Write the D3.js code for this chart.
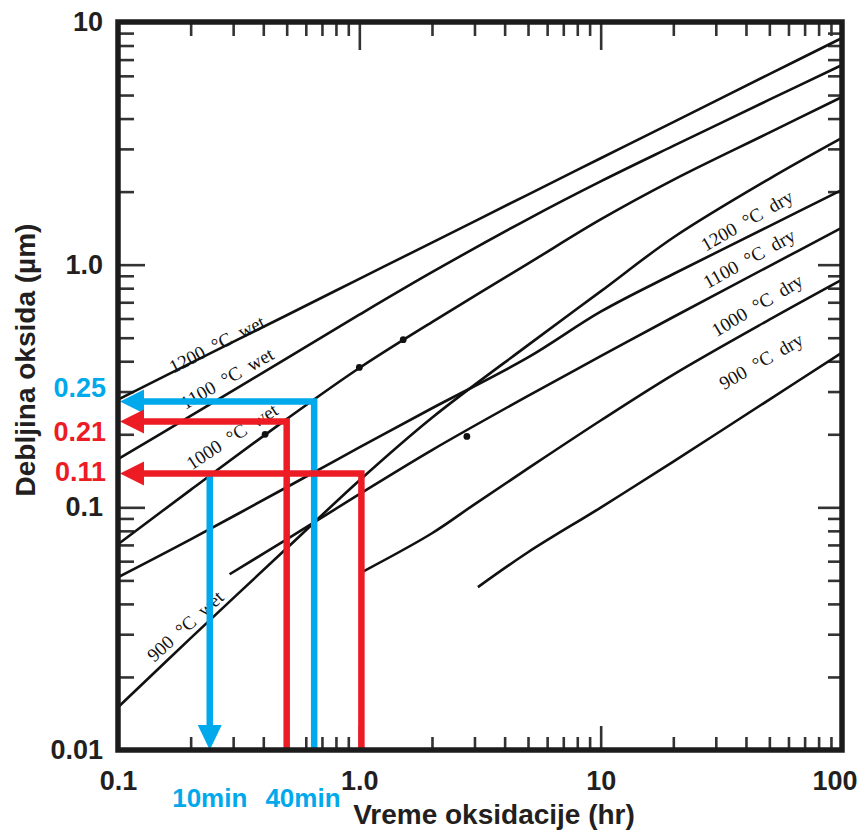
<!DOCTYPE html>
<html>
<head>
<meta charset="utf-8">
<script src="https://cdn.jsdelivr.net/npm/d3@7/dist/d3.min.js"></script>
<style>
  body { margin: 0; background: #fff; }
  svg { display: block; }
</style>
</head>
<body>
<svg id="chart" width="860" height="831"></svg>
<script>
// Oxidation time (hr) and oxide thickness (um)
const wet1200T = [0.1, 0.2, 0.5, 1, 2, 5, 10, 20, 50, 100];
const wet1200D = [0.278, 0.393, 0.619, 0.874, 1.233, 1.945, 2.744, 3.87, 6.10, 8.59];
const wet1100T = [0.1, 0.2, 0.5, 1, 2, 5, 10, 20, 50, 100];
const wet1100D = [0.158, 0.238, 0.411, 0.622, 0.931, 1.542, 2.204, 3.086, 4.785, 6.65];
const wet1000T = [0.1, 0.2, 0.5, 1, 2, 5, 10, 20, 50, 100];
const wet1000D = [0.0704, 0.118, 0.231, 0.375, 0.580, 1.01, 1.536, 2.236, 3.50, 4.91];
const wet900T = [0.1, 0.2, 0.5, 1, 2, 5, 10, 20, 50, 100];
const wet900D = [0.0150, 0.0289, 0.0678, 0.129, 0.234, 0.466, 0.776, 1.294, 2.259, 3.33];
const dry1200T = [0.1, 0.2, 0.5, 1, 2, 5, 10, 20, 50, 100];
const dry1200D = [0.0515, 0.0738, 0.121, 0.1765, 0.256, 0.4145, 0.64, 0.915, 1.441, 2.035];
const dry1100T = [0.29, 0.5, 1, 2, 5, 10, 20, 50, 100];
const dry1100D = [0.053, 0.0738, 0.1133, 0.1722, 0.288, 0.4195, 0.6087, 0.987, 1.42];
const dry1000T = [1.04, 2, 3, 5, 10, 20, 50, 100];
const dry1000D = [0.0545, 0.0782, 0.1029, 0.1447, 0.228, 0.3526, 0.5937, 0.868];
const dry900T = [3.1, 5, 10, 20, 50, 100];
const dry900D = [0.0469, 0.0653, 0.0998, 0.1544, 0.278, 0.4344];

// measured points marked with dots
const dotT = [0.407, 1.0, 1.52, 2.79];
const dotD = [0.2, 0.377, 0.491, 0.196];

// curve labels (text, anchor time, anchor thickness, angle)
const labelText = ['1200  \u00B0C  wet', '1100  \u00B0C  wet', '1000  \u00B0C  wet', '900  \u00B0C  wet',
                   '1200  \u00B0C  dry', '1100  \u00B0C  dry', '1000  \u00B0C  dry', '900  \u00B0C  dry'];
const labelT = [0.257, 0.283, 0.297, 0.19, 40.4, 41.2, 44.5, 46.2];
const labelD = [0.47, 0.34, 0.196, 0.0324, 1.52, 1.06, 0.68, 0.40];
const labelAngle = [-27, -30, -33, -42, -30, -29, -31, -30];

// axis ticks
const xMajor = [0.1, 1, 10, 100];
const xMajorLabels = ['0.1', '1.0', '10', '100'];
const yMajor = [0.01, 0.1, 1, 10];
const yMajorLabels = ['0.01', '0.1', '1.0', '10'];

// worked examples drawn in colour
const blueLevel = 0.273, blueTime = 0.65, blueDownTime = 0.24, blueDownFrom = 0.137;
const redLevels = [0.226, 0.138];
const redTimes = [0.5, 1.02];
const sideLabels = ['0.25', '0.21', '0.11'];
const sideLabelD = [0.312, 0.2055, 0.1407];
const timeLabels = ['10min', '40min'];
const timeLabelT = [0.24, 0.584];

const BLUE = '#00a9ec';
const RED = '#ed1c24';
const INK = '#231f20';

const svg = d3.select('#chart');
const plotLeft = 118, plotRight = 842, plotTop = 22, plotBottom = 750;

const x = d3.scaleLog().domain([0.1, 100]).range([plotLeft, plotRight]);
const y = d3.scaleLog().domain([0.01, 10]).range([plotBottom, plotTop]);

const isMajor = v => Math.abs(Math.log10(v) - Math.round(Math.log10(v))) < 1e-6;
const xMinor = x.ticks().filter(v => !isMajor(v));
const yMinor = y.ticks().filter(v => !isMajor(v));

function styleTicks(g) {
    g.select('.domain').remove();
    g.selectAll('.tick line').attr('stroke', '#333').attr('stroke-width', 2.6);
}

// minor ticks, inward on all four sides
svg.append('g').attr('transform', `translate(0,${plotBottom})`)
    .call(d3.axisBottom(x).tickValues(xMinor).tickSize(-13).tickFormat('')).call(styleTicks);
svg.append('g').attr('transform', `translate(0,${plotTop})`)
    .call(d3.axisTop(x).tickValues(xMinor).tickSize(-14).tickFormat('')).call(styleTicks);
svg.append('g').attr('transform', `translate(${plotLeft},0)`)
    .call(d3.axisLeft(y).tickValues(yMinor).tickSize(-16).tickFormat('')).call(styleTicks);
svg.append('g').attr('transform', `translate(${plotRight},0)`)
    .call(d3.axisRight(y).tickValues(yMinor).tickSize(-14).tickFormat('')).call(styleTicks);

// major ticks with labels
const xAxisG = svg.append('g').attr('transform', `translate(0,${plotBottom})`)
    .call(d3.axisBottom(x).tickValues(xMajor).tickSize(-24).tickPadding(21)
        .tickFormat((d, i) => xMajorLabels[i]))
    .call(styleTicks);
svg.append('g').attr('transform', `translate(0,${plotTop})`)
    .call(d3.axisTop(x).tickValues(xMajor).tickSize(-28).tickFormat('')).call(styleTicks);
const yAxisG = svg.append('g').attr('transform', `translate(${plotLeft},0)`)
    .call(d3.axisLeft(y).tickValues(yMajor).tickSize(-27).tickPadding(15)
        .tickFormat((d, i) => yMajorLabels[i]))
    .call(styleTicks);
svg.append('g').attr('transform', `translate(${plotRight},0)`)
    .call(d3.axisRight(y).tickValues(yMajor).tickSize(-24).tickFormat('')).call(styleTicks);

[xAxisG, yAxisG].forEach(g => g.selectAll('text')
    .attr('font-family', '"Liberation Sans", Arial, sans-serif')
    .attr('font-size', 27)
    .attr('font-weight', 'bold')
    .attr('fill', INK));

// keep "100" inside the picture
xAxisG.selectAll('.tick text')
    .filter(d => d === 100)
    .attr('text-anchor', 'end')
    .attr('x', 15);

// curves
const series = [
    [wet1200T, wet1200D], [wet1100T, wet1100D], [wet1000T, wet1000D], [wet900T, wet900D],
    [dry1200T, dry1200D], [dry1100T, dry1100D], [dry1000T, dry1000D], [dry900T, dry900D]
].map(([t, d]) => t.map((v, i) => ({ t: v, d: d[i] })));

const line = d3.line()
    .x(p => x(p.t))
    .y(p => y(p.d))
    .curve(d3.curveCatmullRom.alpha(0.5));

svg.append('g').selectAll('path')
    .data(series)
    .join('path')
    .attr('d', line)
    .attr('fill', 'none')
    .attr('stroke', '#111')
    .attr('stroke-width', 2.6);

svg.append('g').selectAll('circle')
    .data(dotT.map((t, i) => ({ t, d: dotD[i] })))
    .join('circle')
    .attr('cx', p => x(p.t))
    .attr('cy', p => y(p.d))
    .attr('r', 3.4)
    .attr('fill', '#111');

// curve labels
svg.append('g').selectAll('text')
    .data(labelText.map((s, i) => ({ s, t: labelT[i], d: labelD[i], a: labelAngle[i] })))
    .join('text')
    .attr('transform', p => `translate(${x(p.t)},${y(p.d)}) rotate(${p.a})`)
    .attr('text-anchor', 'middle')
    .attr('dominant-baseline', 'central')
    .attr('font-family', '"Liberation Serif", "Times New Roman", serif')
    .attr('font-size', 19)
    .attr('fill', '#111')
    .style('white-space', 'pre')
    .text(p => p.s);

// coloured guide lines
const ann = svg.append('g').attr('fill', 'none').attr('stroke-width', 6.5)
    .attr('stroke-linejoin', 'miter');

function leftArrow(color, level) {
    const tx = x(0.1) + 2, ty = y(level);
    svg.append('path')
        .attr('d', `M${tx},${ty} L${tx + 24},${ty - 12} L${tx + 24},${ty + 12} Z`)
        .attr('fill', color);
}

// blue: 10 min (down arrow) and 40 min
ann.append('path')
    .attr('stroke', BLUE)
    .attr('d', `M${x(blueDownTime)},${y(blueDownFrom)} V${y(0.01) - 20}`);
svg.append('path')
    .attr('d', `M${x(blueDownTime)},${y(0.01)} l-12,-25 h24 Z`)
    .attr('fill', BLUE);
ann.append('path')
    .attr('stroke', BLUE)
    .attr('d', `M${x(blueTime)},${y(0.01)} V${y(blueLevel)} H${x(0.1) + 22}`);
leftArrow(BLUE, blueLevel);

// red: 30 min and 1 hr
redTimes.forEach((t, i) => {
    ann.append('path')
        .attr('stroke', RED)
        .attr('d', `M${x(t)},${y(0.01)} V${y(redLevels[i])} H${x(0.1) + 22}`);
    leftArrow(RED, redLevels[i]);
});

// frame
svg.append('rect')
    .attr('x', plotLeft).attr('y', plotTop)
    .attr('width', plotRight - plotLeft).attr('height', plotBottom - plotTop)
    .attr('fill', 'none')
    .attr('stroke', '#1c1c1c')
    .attr('stroke-width', 5.5);

// coloured value labels
const boldText = (sel, size) => sel
    .attr('font-family', '"Liberation Sans", Arial, sans-serif')
    .attr('font-weight', 'bold')
    .attr('font-size', size);

svg.append('g').selectAll('text')
    .data(sideLabels.map((s, i) => ({ s, d: sideLabelD[i], c: i === 0 ? BLUE : RED })))
    .join('text')
    .attr('x', 106)
    .attr('y', p => y(p.d))
    .attr('dy', '0.36em')
    .attr('text-anchor', 'end')
    .attr('fill', p => p.c)
    .call(boldText, 27)
    .text(p => p.s);

svg.append('g').selectAll('text')
    .data(timeLabels.map((s, i) => ({ s, t: timeLabelT[i] })))
    .join('text')
    .attr('x', p => x(p.t))
    .attr('y', 807)
    .attr('text-anchor', 'middle')
    .attr('fill', BLUE)
    .call(boldText, 26)
    .text(p => p.s);

// axis titles
svg.append('text')
    .attr('x', 494).attr('y', 824)
    .attr('text-anchor', 'middle')
    .attr('fill', INK)
    .call(boldText, 28)
    .text('Vreme oksidacije (hr)');

svg.append('text')
    .attr('transform', 'translate(35,360) rotate(-90)')
    .attr('text-anchor', 'middle')
    .attr('fill', INK)
    .call(boldText, 28)
    .text('Debljina oksida (\u00B5m)');
</script>
</body>
</html>
